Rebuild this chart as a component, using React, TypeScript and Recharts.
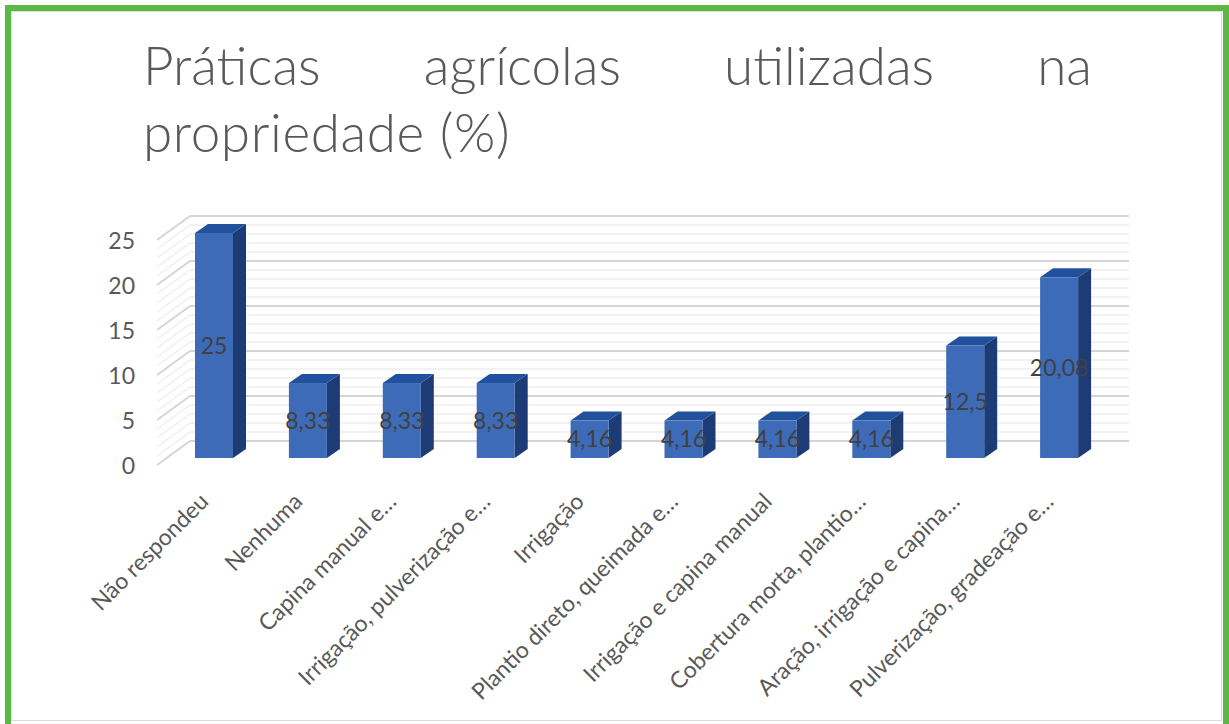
import React from "react";
import { Bar, BarChart, CartesianGrid, LabelList, XAxis, YAxis } from "recharts";

const categories = [
  "Não respondeu",
  "Nenhuma",
  "Capina manual e…",
  "Irrigação, pulverização e…",
  "Irrigação",
  "Plantio direto, queimada e…",
  "Irrigação e capina manual",
  "Cobertura morta, plantio…",
  "Aração, irrigação e capina…",
  "Pulverização, gradeação e…",
];
const values = [25, 8.33, 8.33, 8.33, 4.16, 4.16, 4.16, 4.16, 12.5, 20.08];
const yTicks = [0, 5, 10, 15, 20, 25];
const yDomain = [0, 25];
const gridValues = Array.from({ length: 26 }, (_, i) => i);

const data = categories.map((name, i) => ({ name, value: values[i] }));

const FONT = "Lato, 'Open Sans', sans-serif";
const TEXT = "#595959";
const FRONT = "#3e6bb8";
const TOP = "#21509c";
const SIDE = "#1d3c76";
const GREEN = "#5ab845";

// 3d offsets (px)
const DEPTH_X = 13;
const DEPTH_Y = 9;
const WALL_X = 23;
const WALL_Y = -17;

function Box3D(props: any) {
  const { x, y, width, height } = props;
  if (height == null || width == null) return null;
  const top = `M${x},${y} L${x + DEPTH_X},${y - DEPTH_Y} L${x + width + DEPTH_X},${y - DEPTH_Y} L${x + width},${y} Z`;
  const side = `M${x + width},${y} L${x + width + DEPTH_X},${y - DEPTH_Y} L${x + width + DEPTH_X},${y + height - DEPTH_Y} L${x + width},${y + height} Z`;
  return (
    <g>
      <path d={side} fill={SIDE} />
      <path d={top} fill={TOP} />
      <rect x={x} y={y} width={width} height={height} fill={FRONT} />
    </g>
  );
}

// value -> pixel on the y axis, whatever shape the scale comes in
function yPos(args: any, v: number) {
  const s = args?.yAxis?.scale;
  if (typeof s === "function") return s(v);
  if (s && typeof s.map === "function") return s.map(v);
  const { top, height } = args.offset;
  return top + height * (1 - (v - yDomain[0]) / (yDomain[1] - yDomain[0]));
}

function gridLine(props: any) {
  const { x1, x2, y1, index } = props;
  const v = gridValues[index];
  const major = v % 5 === 0;
  const stroke = major ? "#d5d5d5" : "#eeeeee";
  const sw = major ? 2 : 1.3;
  return (
    <g key={`grid-${index}`}>
      <line x1={x1 + WALL_X} x2={x2 + WALL_X} y1={y1 + WALL_Y} y2={y1 + WALL_Y} stroke={stroke} strokeWidth={sw} />
      <line x1={x1 - 10} y1={y1 + 7} x2={x1 + WALL_X} y2={y1 + WALL_Y} stroke={stroke} strokeWidth={sw} />
    </g>
  );
}

function YTick(props: any) {
  const { x, y, payload } = props;
  return (
    <text x={x} y={y + 8} dy="0.35em" textAnchor="end" fill={TEXT} fontSize={23} fontFamily={FONT}>
      {payload.value}
    </text>
  );
}

function XTick(props: any) {
  const { x, y, payload } = props;
  const ax = x - 4;
  return (
    <text
      x={ax}
      y={y}
      textAnchor="end"
      fill={TEXT}
      fontSize={23}
      fontFamily={FONT}
      transform={`rotate(-45, ${ax}, ${y})`}
    >
      {payload.value}
    </text>
  );
}

export default function App() {
  return (
    <div style={{ position: "relative", width: 1229, height: 724, background: "#fff", overflow: "hidden" }}>
      <style>{"body{margin:0;overflow:hidden}"}</style>
      <div
        style={{
          position: "absolute",
          left: 5,
          top: 5,
          width: 1224 - 12,
          height: 740,
          border: `6px solid ${GREEN}`,
        }}
      />
      <div
        style={{
          position: "absolute",
          left: 11,
          top: 11,
          width: 1222 - 11 - 2,
          height: 721 - 11 - 2,
          border: "1.5px solid #dcdcdc",
        }}
      />
      <div
        style={{
          position: "absolute",
          left: 143,
          top: 31,
          width: 949,
          fontFamily: FONT,
          fontWeight: 300,
          fontSize: 53,
          lineHeight: "67px",
          color: TEXT,
        }}
      >
        <div style={{ textAlign: "justify", textAlignLast: "justify", whiteSpace: "nowrap" }}>
          Práticas agrícolas utilizadas na
        </div>
        <div style={{ letterSpacing: 0.6 }}>propriedade (%)</div>
      </div>
      <div style={{ position: "absolute", left: 0, top: 0 }}>
        <BarChart
          width={1229}
          height={724}
          data={data}
          margin={{ top: 233, right: 123, bottom: 66, left: 107 }}
        >
          <CartesianGrid
            vertical={false}
            horizontal={gridLine}
            horizontalCoordinatesGenerator={(args: any) => gridValues.map((v) => yPos(args, v))}
          />
          <XAxis
            dataKey="name"
            interval={0}
            height={200}
            axisLine={false}
            tickLine={false}
            tickSize={0}
            tickMargin={45}
            tick={<XTick />}
          />
          <YAxis
            domain={yDomain}
            ticks={yTicks}
            width={60}
            axisLine={false}
            tickLine={false}
            tickSize={0}
            tickMargin={32}
            tick={<YTick />}
          />
          <Bar dataKey="value" barSize={38} shape={<Box3D />} isAnimationActive={false}>
            <LabelList
              dataKey="value"
              position="center"
              formatter={(v: any) => String(v).replace(".", ",")}
              fill="#404040"
              fontSize={23}
              fontFamily={FONT}
            />
          </Bar>
        </BarChart>
      </div>
    </div>
  );
}
